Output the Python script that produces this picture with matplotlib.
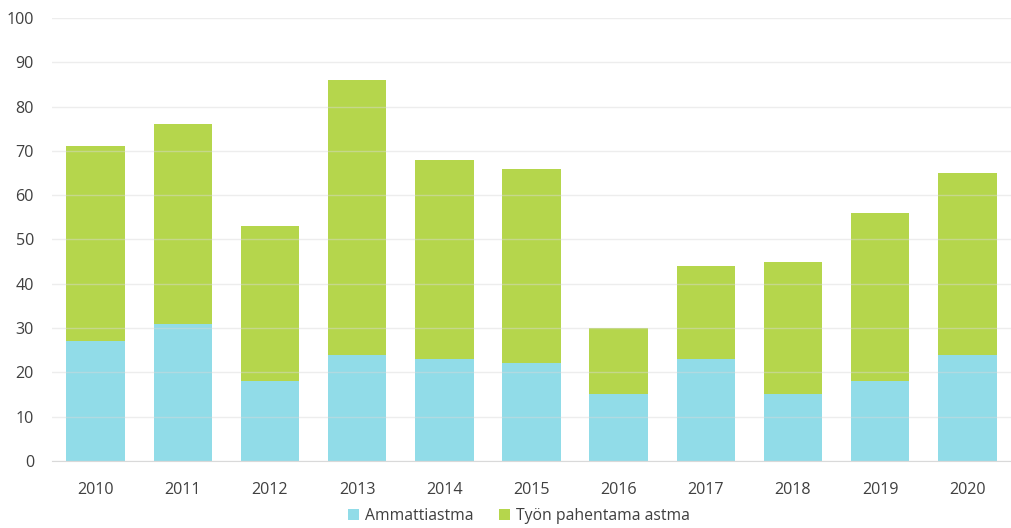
import matplotlib.pyplot as plt
import numpy as np

years = ["2010", "2011", "2012", "2013", "2014", "2015", "2016", "2017", "2018", "2019", "2020"]
ammattiastma = [27, 31, 18, 24, 23, 22, 15, 23, 15, 18, 24]
pahentama = [44, 45, 35, 62, 45, 44, 15, 21, 30, 38, 41]

plt.rcParams['font.family'] = ['Open Sans', 'DejaVu Sans']

fig = plt.figure(figsize=(10.11, 5.28), dpi=100)
ax = fig.add_axes([0.0514, 0.127, 0.9486, 0.839])

x = np.arange(len(years))
w = 0.67
ax.bar(x, ammattiastma, w, color="#91dce8", label="Ammattiastma", zorder=2)
ax.bar(x, pahentama, w, bottom=ammattiastma, color="#b5d64c",
       label="Työn pahentama astma", zorder=2)

ax.set_xlim(-0.5, len(years) - 0.5)
ax.set_ylim(0, 100)
ax.set_yticks(range(0, 101, 10))
ax.set_xticks(x)
ax.set_xticklabels(years)
ax.grid(axis="y", color="#d9d9d9", alpha=0.45, linewidth=1, zorder=3)
ax.set_axisbelow(False)

for s in ["top", "right", "left"]:
    ax.spines[s].set_visible(False)
ax.spines["bottom"].set_color("#d9d9d9")
ax.spines["bottom"].set_zorder(4)
ax.tick_params(length=0, labelsize=11.6, colors="#404040")
ax.tick_params(axis="y", pad=13)
ax.tick_params(axis="x", pad=15)

ax.legend(loc="lower center", bbox_to_anchor=(0.487, -0.163), ncol=2, frameon=False,
          fontsize=11.3, handlelength=0.7, handleheight=0.7, handletextpad=0.4,
          columnspacing=1.6, labelcolor="#404040", borderpad=0.1)

fig.savefig("out.png", dpi=100)
